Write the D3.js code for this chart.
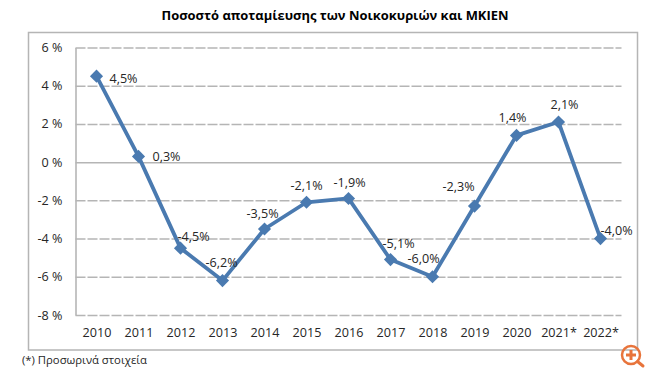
<!DOCTYPE html>
<html>
<head>
<meta charset="utf-8">
<script src="https://cdn.jsdelivr.net/npm/d3@7"></script>
<style>
  body { margin: 0; background: #fff; }
  svg { display: block; }
  text { font-family: "Open Sans", "Noto Sans", sans-serif; fill: #262626; }
</style>
</head>
<body>
<svg width="650" height="373"></svg>
<script>
var years = ["2010", "2011", "2012", "2013", "2014", "2015", "2016", "2017", "2018", "2019", "2020", "2021*", "2022*"];
var values = [4.5, 0.3, -4.5, -6.2, -3.5, -2.1, -1.9, -5.1, -6.0, -2.3, 1.4, 2.1, -4.0];
var yTicks = [6, 4, 2, 0, -2, -4, -6, -8];

// hand placed label offsets from each point, same order as years
var labelDx = [27, 28, 13, -1, -2, 0, 1, 8, -9, -16, -4, 6, 16];
var labelDy = [2, 0, -12, -18, -15, -17, -16, -16, -18, -19, -18, -17, -8];

var svg = d3.select("svg"),
  margin = { top: 47.5, right: 28.5, bottom: 58, left: 75.5 },
  width = +svg.attr("width") - margin.left - margin.right,
  height = +svg.attr("height") - margin.top - margin.bottom;

svg.append("text")
  .attr("x", 335)
  .attr("y", 19.5)
  .attr("text-anchor", "middle")
  .style("font-size", "12.95px")
  .style("font-weight", "bold")
  .style("fill", "#000")
  .text("Ποσοστό αποταμίευσης των Νοικοκυριών και ΜΚΙΕΝ");

svg.append("rect")
  .attr("x", 28.5)
  .attr("y", 32.5)
  .attr("width", 609)
  .attr("height", 317.5)
  .attr("fill", "#fff")
  .attr("stroke", "#b5b5b5")
  .attr("stroke-width", 1.5);

var g = svg.append("g")
  .attr("transform", "translate(" + margin.left + "," + margin.top + ")");

var x = d3.scalePoint().domain(years).range([0, width]).padding(0.5);
var y = d3.scaleLinear().domain([-8, 6]).range([height, 0]);

// gridlines come from the y axis ticks
var yAxis = g.append("g")
  .call(d3.axisLeft(y).tickValues(yTicks).tickSize(-width).tickSizeOuter(0).tickPadding(13)
    .tickFormat(function(d) { return d + " %"; }));
yAxis.select(".domain").attr("stroke", "#b0b0b0").attr("stroke-width", 1.5);
yAxis.selectAll(".tick line")
  .attr("stroke", "#b5b5b5")
  .attr("stroke-width", 1.5)
  .attr("stroke-dasharray", function(d) { return d === 0 ? null : "10,2"; });
yAxis.selectAll("text").style("font-size", "12.6px");

var xAxis = g.append("g")
  .attr("transform", "translate(0," + height + ")")
  .call(d3.axisBottom(x).tickSize(0).tickPadding(13));
xAxis.select(".domain").remove();
xAxis.selectAll("text").style("font-size", "12.6px");

var line = d3.line()
  .x(function(d, i) { return x(years[i]); })
  .y(function(d) { return y(d); });

g.append("path")
  .datum(values)
  .attr("d", line)
  .attr("fill", "none")
  .attr("stroke", "#4a7ab0")
  .attr("stroke-width", 3.8)
  .attr("stroke-linejoin", "round");

g.selectAll(".pt")
  .data(values)
  .enter()
  .append("path")
  .attr("class", "pt")
  .attr("d", d3.symbol().type(d3.symbolDiamond2).size(110))
  .attr("transform", function(d, i) { return "translate(" + x(years[i]) + "," + y(d) + ")"; })
  .attr("fill", "#4a7ab0");

g.selectAll(".lbl")
  .data(values)
  .enter()
  .append("text")
  .attr("class", "lbl")
  .attr("x", function(d, i) { return x(years[i]) + labelDx[i]; })
  .attr("y", function(d, i) { return y(d) + labelDy[i]; })
  .attr("dy", "0.35em")
  .attr("text-anchor", "middle")
  .style("font-size", "12.6px")
  .text(function(d) { return d.toFixed(1).replace(".", ",") + "%"; });

svg.append("text")
  .attr("x", 22)
  .attr("y", 364)
  .style("font-size", "11.3px")
  .text("(*) Προσωρινά στοιχεία");

// magnifier badge in the corner
var zoomIcon = svg.append("g")
  .attr("transform", "translate(631,355)")
  .attr("fill", "none")
  .attr("stroke", "#e8743b");
zoomIcon.append("circle").attr("r", 9).attr("stroke-width", 2.5);
zoomIcon.append("path").attr("d", "M6.5,6.5L12,11").attr("stroke-width", 3).attr("stroke-linecap", "round");
zoomIcon.append("path").attr("d", "M-5,0H5M0,-5V5").attr("stroke-width", 3);
</script>
</body>
</html>
